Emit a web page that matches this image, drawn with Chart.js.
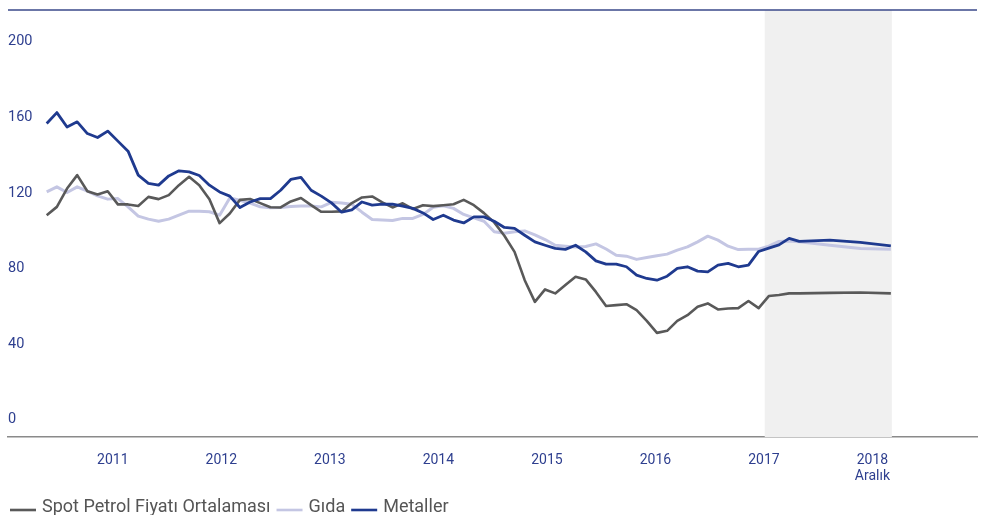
<!DOCTYPE html>
<html>
<head>
<meta charset="utf-8">
<script src="https://cdn.jsdelivr.net/npm/chart.js@4.4.1/dist/chart.umd.min.js"></script>
<style>
  html, body { margin: 0; padding: 0; background: #ffffff; }
  #wrap { width: 992px; height: 515px; position: relative; }
</style>
</head>
<body>
<div id="wrap"><canvas id="c" width="992" height="515"></canvas></div>
<script>
// ---- data (monthly index, last three points quarterly) ----
const monthIdx = [
  0,1,2,3,4,5,6,7,8,9,
  10,11,12,13,14,15,16,17,18,19,
  20,21,22,23,24,25,26,27,28,29,
  30,31,32,33,34,35,36,37,38,39,
  40,41,42,43,44,45,46,47,48,49,
  50,51,52,53,54,55,56,57,58,59,
  60,61,62,63,64,65,66,67,68,69,
  70,71,72,73,74,77,80,83
];
const petrol = [
  107.4,111.8,121.5,128.6,120.1,118.4,120.1,113.1,113.1,112.3,
  117.1,115.9,118.0,123.3,127.7,123.3,115.8,103.2,108.3,115.5,
  116.0,113.8,111.6,111.5,114.7,116.5,112.7,109.2,109.2,109.4,
  113.8,116.8,117.3,114.2,111.5,113.7,110.7,112.7,112.2,112.7,
  113.2,115.5,112.7,108.5,103.6,96.5,88.0,73.0,61.5,68.1,
  66.0,70.4,74.8,73.4,66.8,59.3,59.8,60.3,57.1,51.5,
  45.1,46.2,51.5,54.5,58.9,60.7,57.5,58.0,58.2,62.0,
  58.2,64.6,65.2,66.0,66.0,66.3,66.5,66.0
];
const gida = [
  119.7,122.4,119.4,122.4,120.1,117.6,115.9,116.2,111.8,106.9,
  105.3,104.2,105.3,107.4,109.5,109.5,109.2,107.4,116.5,115.3,
  113.8,111.8,111.3,111.5,112.0,112.2,112.2,111.8,114.2,113.9,
  113.2,109.0,105.1,104.8,104.6,105.7,105.7,107.8,111.6,112.4,
  111.0,107.8,106.0,104.2,98.6,97.8,98.6,99.1,97.0,94.5,
  91.5,91.0,90.6,90.8,92.2,89.5,86.2,85.7,84.0,85.0,
  85.9,86.8,88.9,90.6,93.3,96.3,94.2,91.0,89.2,89.4,
  89.4,91.0,93.5,93.7,93.3,91.5,89.8,89.4
];
const metaller = [
  155.9,161.7,154.1,156.8,150.6,148.5,151.9,146.6,141.3,128.6,
  124.2,123.3,128.2,130.9,130.3,128.4,123.3,119.7,117.5,111.5,
  114.4,116.2,116.2,120.6,126.3,127.4,120.6,117.5,113.9,109.0,
  110.2,114.4,112.7,113.2,113.2,112.2,111.0,108.6,105.1,107.4,
  104.8,103.3,106.5,106.5,104.2,100.9,100.4,96.8,93.3,91.5,
  89.8,89.3,91.5,88.0,83.2,81.5,81.5,80.1,75.7,73.9,
  73.0,75.1,79.2,80.1,77.8,77.4,81.0,81.9,80.1,81.0,
  88.2,90.0,91.7,95.1,93.5,94.2,93.0,91.2
];
const seriesNames = ['Spot Petrol Fiyatı Ortalaması', 'Gıda', 'Metaller'];
const yearPos = [6.5, 17.17, 27.84, 38.51, 49.18, 59.85, 70.52, 81.19];
const yearLabels = ['2011', '2012', '2013', '2014', '2015', '2016', '2017', ['2018', 'Aralık']];
const yTicks = [0, 40, 80, 120, 160, 200];
const forecastSpan = [70.6, 83.1];

const toPts = arr => arr.map((v, i) => ({ x: monthIdx[i], y: v }));

const COL_PETROL = '#595959';
const COL_GIDA = '#c4c6e3';
const COL_METAL = '#1f3a8f';
const COL_TEXT = '#2e3f8f';
const FONT = 'Roboto, "Open Sans", sans-serif';

const shadePlugin = {
  id: 'shade',
  beforeDatasetsDraw(chart) {
    const { ctx, chartArea, scales } = chart;
    const x0 = scales.x.getPixelForValue(forecastSpan[0]);
    const x1 = scales.x.getPixelForValue(forecastSpan[1]);
    ctx.save();
    ctx.fillStyle = '#f0f0f0';
    ctx.fillRect(x0, chartArea.top, x1 - x0, chartArea.bottom - chartArea.top);
    ctx.restore();
  },
  afterDraw(chart) {
    const { ctx, chartArea } = chart;
    ctx.save();
    // top rule
    ctx.strokeStyle = '#3a488a';
    ctx.lineWidth = 1.5;
    ctx.beginPath();
    ctx.moveTo(chartArea.left, chartArea.top);
    ctx.lineTo(chartArea.right, chartArea.top);
    ctx.stroke();
    // legend
    ctx.font = '18px ' + FONT;
    ctx.textBaseline = 'alphabetic';
    ctx.textAlign = 'left';
    let x = 10;
    chart.data.datasets.slice().sort((a, b) => a.legendOrder - b.legendOrder).forEach(ds => {
      ctx.strokeStyle = ds.borderColor;
      ctx.lineWidth = 2.6;
      ctx.beginPath();
      ctx.moveTo(x, 510);
      ctx.lineTo(x + 26, 510);
      ctx.stroke();
      x += 32;
      ctx.fillStyle = '#555555';
      ctx.fillText(ds.label, x, 512);
      x += ctx.measureText(ds.label).width + 6;
    });
    ctx.restore();
  }
};

new Chart(document.getElementById('c'), {
  type: 'line',
  data: {
    datasets: [
      { label: seriesNames[2], data: toPts(metaller), borderColor: COL_METAL, borderWidth: 2.8, order: 1, legendOrder: 3 },
      { label: seriesNames[0], data: toPts(petrol), borderColor: COL_PETROL, borderWidth: 2.6, order: 2, legendOrder: 1 },
      { label: seriesNames[1], data: toPts(gida), borderColor: COL_GIDA, borderWidth: 3, order: 3, legendOrder: 2 }
    ]
  },
  options: {
    responsive: false,
    animation: false,
    devicePixelRatio: 1,
    layout: { padding: { left: 8, right: 15, top: 10, bottom: 0 } },
    elements: {
      point: { radius: 0 },
      line: { tension: 0, fill: false, borderJoinStyle: 'round', borderCapStyle: 'butt' }
    },
    plugins: { legend: { display: false }, tooltip: { enabled: false } },
    scales: {
      x: {
        type: 'linear',
        min: -3.805,
        max: 91.47,
        grid: { display: false },
        border: { display: true, color: '#8a8a8a', width: 1.5 },
        afterBuildTicks: s => { s.ticks = yearPos.map(v => ({ value: v })); },
        afterFit: s => { s.height = 78; },
        ticks: {
          autoSkip: false,
          maxRotation: 0,
          padding: 7,
          color: COL_TEXT,
          font: { family: FONT, size: 14, lineHeight: 1.15 },
          callback: (v, i) => yearLabels[i]
        }
      },
      y: {
        type: 'linear',
        min: -10,
        max: 216,
        grid: { display: false },
        border: { display: false },
        afterBuildTicks: s => { s.ticks = yTicks.map(v => ({ value: v })); },
        afterFit: s => { s.width = 0; },
        ticks: {
          mirror: true,
          padding: 0,
          labelOffset: 1.5,
          color: COL_TEXT,
          font: { family: FONT, size: 14.5 },
          callback: v => String(v)
        }
      }
    }
  },
  plugins: [shadePlugin]
});
</script>
</body>
</html>
